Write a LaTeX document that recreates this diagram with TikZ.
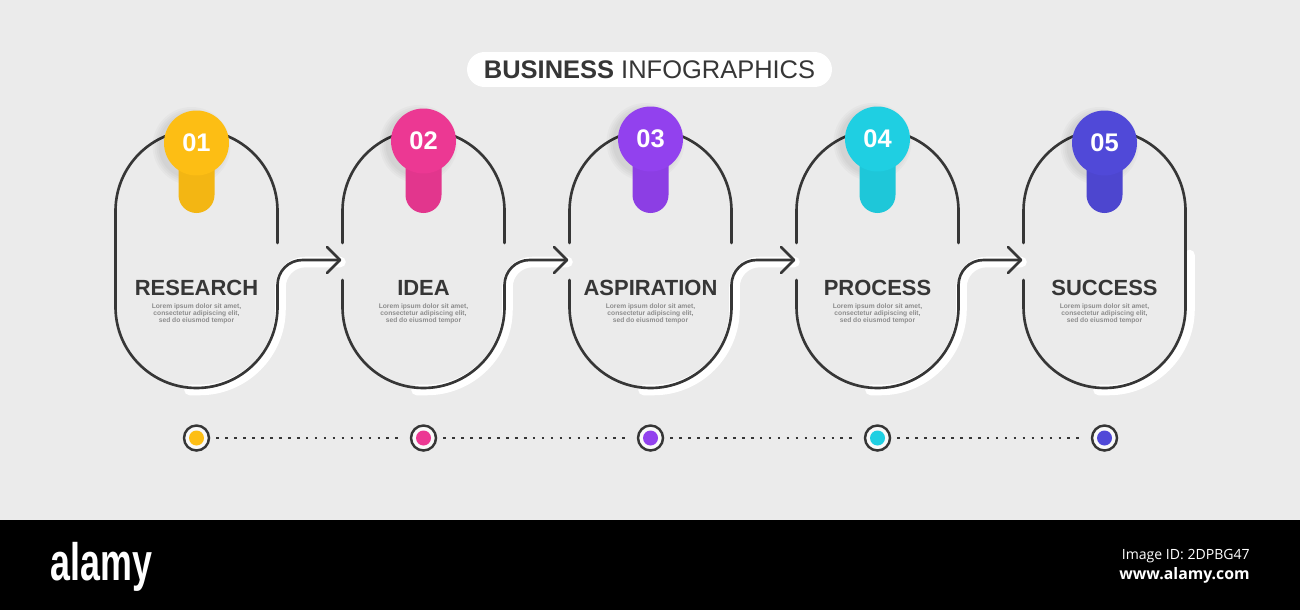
\documentclass[tikz,border=0pt]{standalone}
\usepackage{fontspec}
\usepackage{graphicx}
\setmainfont{Liberation Sans}
\newfontfamily\idfont{Open Sans}
\definecolor{bgray}{HTML}{EBEBEB}
\definecolor{ink}{HTML}{363636}
\definecolor{loremgray}{HTML}{8C8C8C}
\definecolor{pinA}{HTML}{FDBE14}
\definecolor{pinB}{HTML}{EC3893}
\definecolor{pinC}{HTML}{9241EE}
\definecolor{pinD}{HTML}{1FCFE2}
\definecolor{pinE}{HTML}{5049D8}

\begin{document}
\begin{tikzpicture}[x=0.02cm, y=0.02cm,
    outline/.style={draw=ink, line width=1.5pt, line cap=round, line join=round},
    shade line/.style={draw=white, line width=6pt, line cap=round},
    pin/.style={circle, minimum size=1.3cm, inner sep=0pt, text=white,
        font=\fontsize{14.5}{16}\selectfont\bfseries},
    stage name/.style={text=ink, font=\fontsize{12.5}{14}\selectfont\bfseries},
    lorem/.style={text=loremgray, align=center, inner sep=0pt,
        font=\fontsize{3.8}{4.1}\selectfont\bfseries},
    ring/.style={circle, draw=ink, line width=1.4pt, fill=white!70!bgray,
        minimum size=0.5cm, inner sep=0pt},
    dots/.style={draw=ink, line width=1.5pt, dash pattern=on 1.5pt off 3.6pt,
        shorten <=0.12cm, shorten >=0.12cm}]
    % page
    \fill[bgray] (0,0) rectangle (1300,610);
    \useasboundingbox (0,0) rectangle (1300,610);
    \node[fill=white, rounded corners=0.35cm, minimum width=7.3cm, minimum height=0.7cm,
        text=ink, font=\fontsize{14.5}{17}\selectfont] (title) at (649.5,540.5)
        {\textbf{BUSINESS} INFOGRAPHICS};

    \foreach \i/\clr/\word/\py in {1/pinA/RESEARCH/467, 2/pinB/IDEA/469,
        3/pinC/ASPIRATION/471, 4/pinD/PROCESS/471, 5/pinE/SUCCESS/467}{
        \pgfmathsetmacro\cx{196.5+227*(\i-1)}
        \pgfmathsetmacro\ga{ifthenelse(\i==1,330,367)}
        \pgfmathsetmacro\gb{ifthenelse(\i==5,303,367)}
        % white band under the path
        \ifnum\i<5
            \draw[shade line, shift={(3,-2)}] (\cx-10,222) -- (\cx,222)
                arc[start angle=270, end angle=360, radius=81] -- (\cx+81,325)
                arc[start angle=180, end angle=90, radius=25] -- (\cx+141,350);
        \else
            \draw[shade line, shift={(4,-2)}] (\cx-10,222) -- (\cx,222)
                arc[start angle=270, end angle=360, radius=81] -- (\cx+81,357);
        \fi
        \draw[outline] (\cx-81,\ga) -- (\cx-81,399)
            arc[start angle=180, end angle=0, radius=81] -- (\cx+81,\gb);
        \draw[outline] (\cx-81,330) -- (\cx-81,303)
            arc[start angle=180, end angle=360, radius=81];
        \ifnum\i<5
            \draw[outline] (\cx+81,303) -- (\cx+81,325)
                arc[start angle=180, end angle=90, radius=25]
                -- (\cx+143.5,350) coordinate (tip\i);
            \draw[outline] (tip\i) ++(-13,13) -- (tip\i) -- ++(-13,-13);
        \fi
        % pin
        \foreach \r in {39,37,35,33}
            \fill[black, opacity=0.025] (\cx-5,\py-3) circle[radius=\r];
        \fill[\clr!96!black] (\cx-18,\py) -- (\cx-18,415)
            arc[start angle=180, end angle=360, radius=18] -- (\cx+18,\py) -- cycle;
        \node[pin, fill=\clr] (pin\i) at (\cx,\py) {0\i};
        % texts
        \node[stage name] (name\i) at (\cx,322) {\word};
        \node[lorem] (text\i) at (\cx,296)
            {Lorem ipsum dolor sit amet,\\consectetur adipiscing elit,\\sed do eiusmod tempor};
        % timeline
        \node[ring] (dot\i) at (\cx,172) {};
        \fill[\clr] (dot\i) circle[radius=7.5];
    }
    \foreach \i [evaluate=\i as \j using int(\i+1)] in {1,...,4}
        \draw[dots] (dot\i) -- (dot\j);

    % bar
    \fill[black] (0,0) rectangle (1300,90);
    \node[anchor=base west, inner sep=0pt, text=white,
        font=\fontsize{30}{30}\selectfont\bfseries] (logo) at (50,30) {\scalebox{0.68}[1]{alamy}};
    \node[anchor=base east, inner sep=0pt, text=white,
        font=\idfont\fontsize{8}{9}\selectfont] (imgid) at (1250,51) {Image ID: 2DPBG47};
    \node[anchor=base east, inner sep=0pt, text=white,
        font=\idfont\fontsize{9}{10}\selectfont\bfseries] (site) at (1250,31) {www.alamy.com};
\end{tikzpicture}
\end{document}
